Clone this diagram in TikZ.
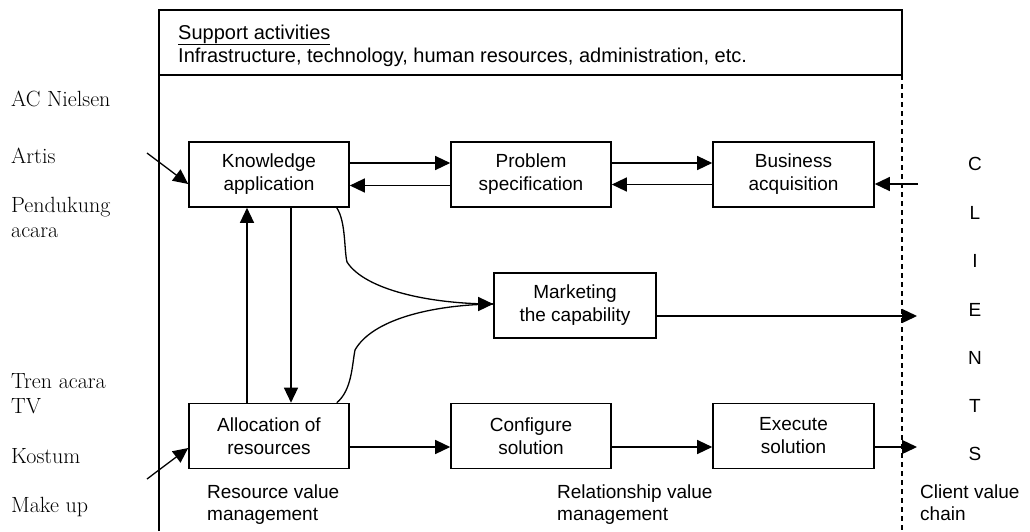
\documentclass[tikz,border=0pt]{standalone}
\usepackage{fontspec}
\newfontfamily\sansf{Liberation Sans}
\newfontfamily\serifl{Latin Modern Roman}
\usetikzlibrary{arrows.meta,calc}
\begin{document}
\begin{tikzpicture}[x=1pt,y=-1pt,
  stepbox/.style={draw,line width=1.6pt,minimum width=160pt,minimum height=65pt,inner sep=0pt,
    align=center,font=\sansf\fontsize{19}{23}\selectfont},
  lbl/.style={inner sep=0pt,anchor=base west,font=\sansf\fontsize{19}{22}\selectfont},
  bandtext/.style={inner sep=0pt,anchor=base west,font=\sansf\fontsize{20}{22}\selectfont},
  src/.style={inner sep=0pt,anchor=base west,font=\serifl\fontsize{22}{25}\selectfont},
  letter/.style={inner sep=0pt,anchor=base,font=\sansf\fontsize{19}{22}\selectfont},
  arr/.style={line width=1.3pt,-{Triangle[length=15pt,width=14pt]}},
  frame/.style={line width=1.6pt}]
\useasboundingbox (0,0) rectangle (1030,531);

% frame with the support activities band
\draw[frame] (159,531) -- (159,10) -- (902,10) -- (902,75);
\draw[frame] (159,75) -- (902,75);
\draw[line width=1.3pt,dash pattern=on 5pt off 4pt] (902,75) -- (902,531);

\node[bandtext] (sa) at (178,39) {\underline{Support activities}};
\node[bandtext] (infra) at (178,62) {Infrastructure, technology, human resources, administration, etc.};

% process boxes
\node[stepbox] (ka) at (269,174.5) {Knowledge\\application};
\node[stepbox] (ps) at (531,174.5) {Problem\\specification};
\node[stepbox,minimum width=161pt] (ba) at (793.5,174.5) {Business\\acquisition};
\node[stepbox,minimum width=162pt] (mc) at (575,305.5) {Marketing\\the capability};
\node[stepbox] (al) at (269,436) {Allocation of\\resources};
\node[stepbox] (cs) at (531,436) {Configure\\solution};
\node[stepbox,minimum width=161pt] (es) at (793.5,436) {Execute\\solution};

% outside sources
\node[src] (acn) at (11,106) {AC Nielsen};
\node[src] (art) at (11,163) {Artis};
\node[src] (pen) at (11,212) {Pendukung};
\node[src] (pen2) at (11,237) {acara};
\node[src] (tren) at (11,388) {Tren acara};
\node[src] (tv) at (11,413) {TV};
\node[src] (kos) at (11,463) {Kostum};
\node[src] (mak) at (11,512) {Make up};

% clients column
\node[letter] (c1) at (975,170) {C};
\node[letter] (c2) at (975,219) {L};
\node[letter] (c3) at (975,267) {I};
\node[letter] (c4) at (975,316) {E};
\node[letter] (c5) at (975,364) {N};
\node[letter] (c6) at (975,412) {T};
\node[letter] (c7) at (975,460) {S};

% value management labels
\node[lbl] (rv1) at (207,498) {Resource value};
\node[lbl] (rv2) at (207,520) {management};
\node[lbl] (rl1) at (557,498) {Relationship value};
\node[lbl] (rl2) at (557,520) {management};
\node[lbl] (cv1) at (920,498) {Client value};
\node[lbl] (cv2) at (920,520) {chain};

% free ends of connectors
\coordinate (inA) at (147,153);
\coordinate (inB) at (147,479);
\coordinate (inC) at (918,184);
\coordinate (outM) at (917,316);
\coordinate (outE) at (917,447);

% top row
\draw[arr] ([yshift=11.5pt]ka.east) -- ([yshift=11.5pt]ps.west);
\draw[arr] ([yshift=-11pt]ps.west) -- ([yshift=-11pt]ka.east);
\draw[arr] ([yshift=11.5pt]ps.east) -- ([yshift=11.5pt]ba.west);
\draw[arr] ([yshift=-10pt]ba.west) -- ([yshift=-10pt]ps.east);
\draw[arr] (inC) -- ([yshift=-9.5pt]ba.east);
\draw[arr] (inA) -- ([yshift=-9.5pt]ka.west);

% bottom row
\draw[arr] (inB) -- ([yshift=-12pt]al.west);
\draw[arr] ([yshift=-11pt]al.east) -- ([yshift=-11pt]cs.west);
\draw[arr] ([yshift=-11pt]cs.east) -- ([yshift=-11pt]es.west);
\draw[arr] ([yshift=-11pt]es.east) -- (outE);

% between knowledge and allocation
\draw[arr] ([xshift=-22pt]al.north) -- ([xshift=-22pt]ka.north |- ka.south);
\draw[arr] ([xshift=22pt]ka.south) -- ([xshift=22pt]al.north);

% curved feeds into marketing
\draw[line width=1.3pt] ([xshift=-13pt]ka.south east) .. controls (346,222) and (344,250) .. (347,262)
  .. controls (365,290) and (430,304) .. ([yshift=1.5pt]mc.west);
\draw[line width=1.3pt] ([xshift=-13pt]al.north east) .. controls (352,390) and (352,365) .. (355,350)
  .. controls (372,320) and (430,305) .. ([yshift=1.5pt]mc.west);
\draw[arr] ([xshift=-2pt,yshift=1.5pt]mc.west) -- ([yshift=1.5pt]mc.west);
\draw[arr] ([yshift=-10.5pt]mc.east) -- (outM);
\end{tikzpicture}
\end{document}
